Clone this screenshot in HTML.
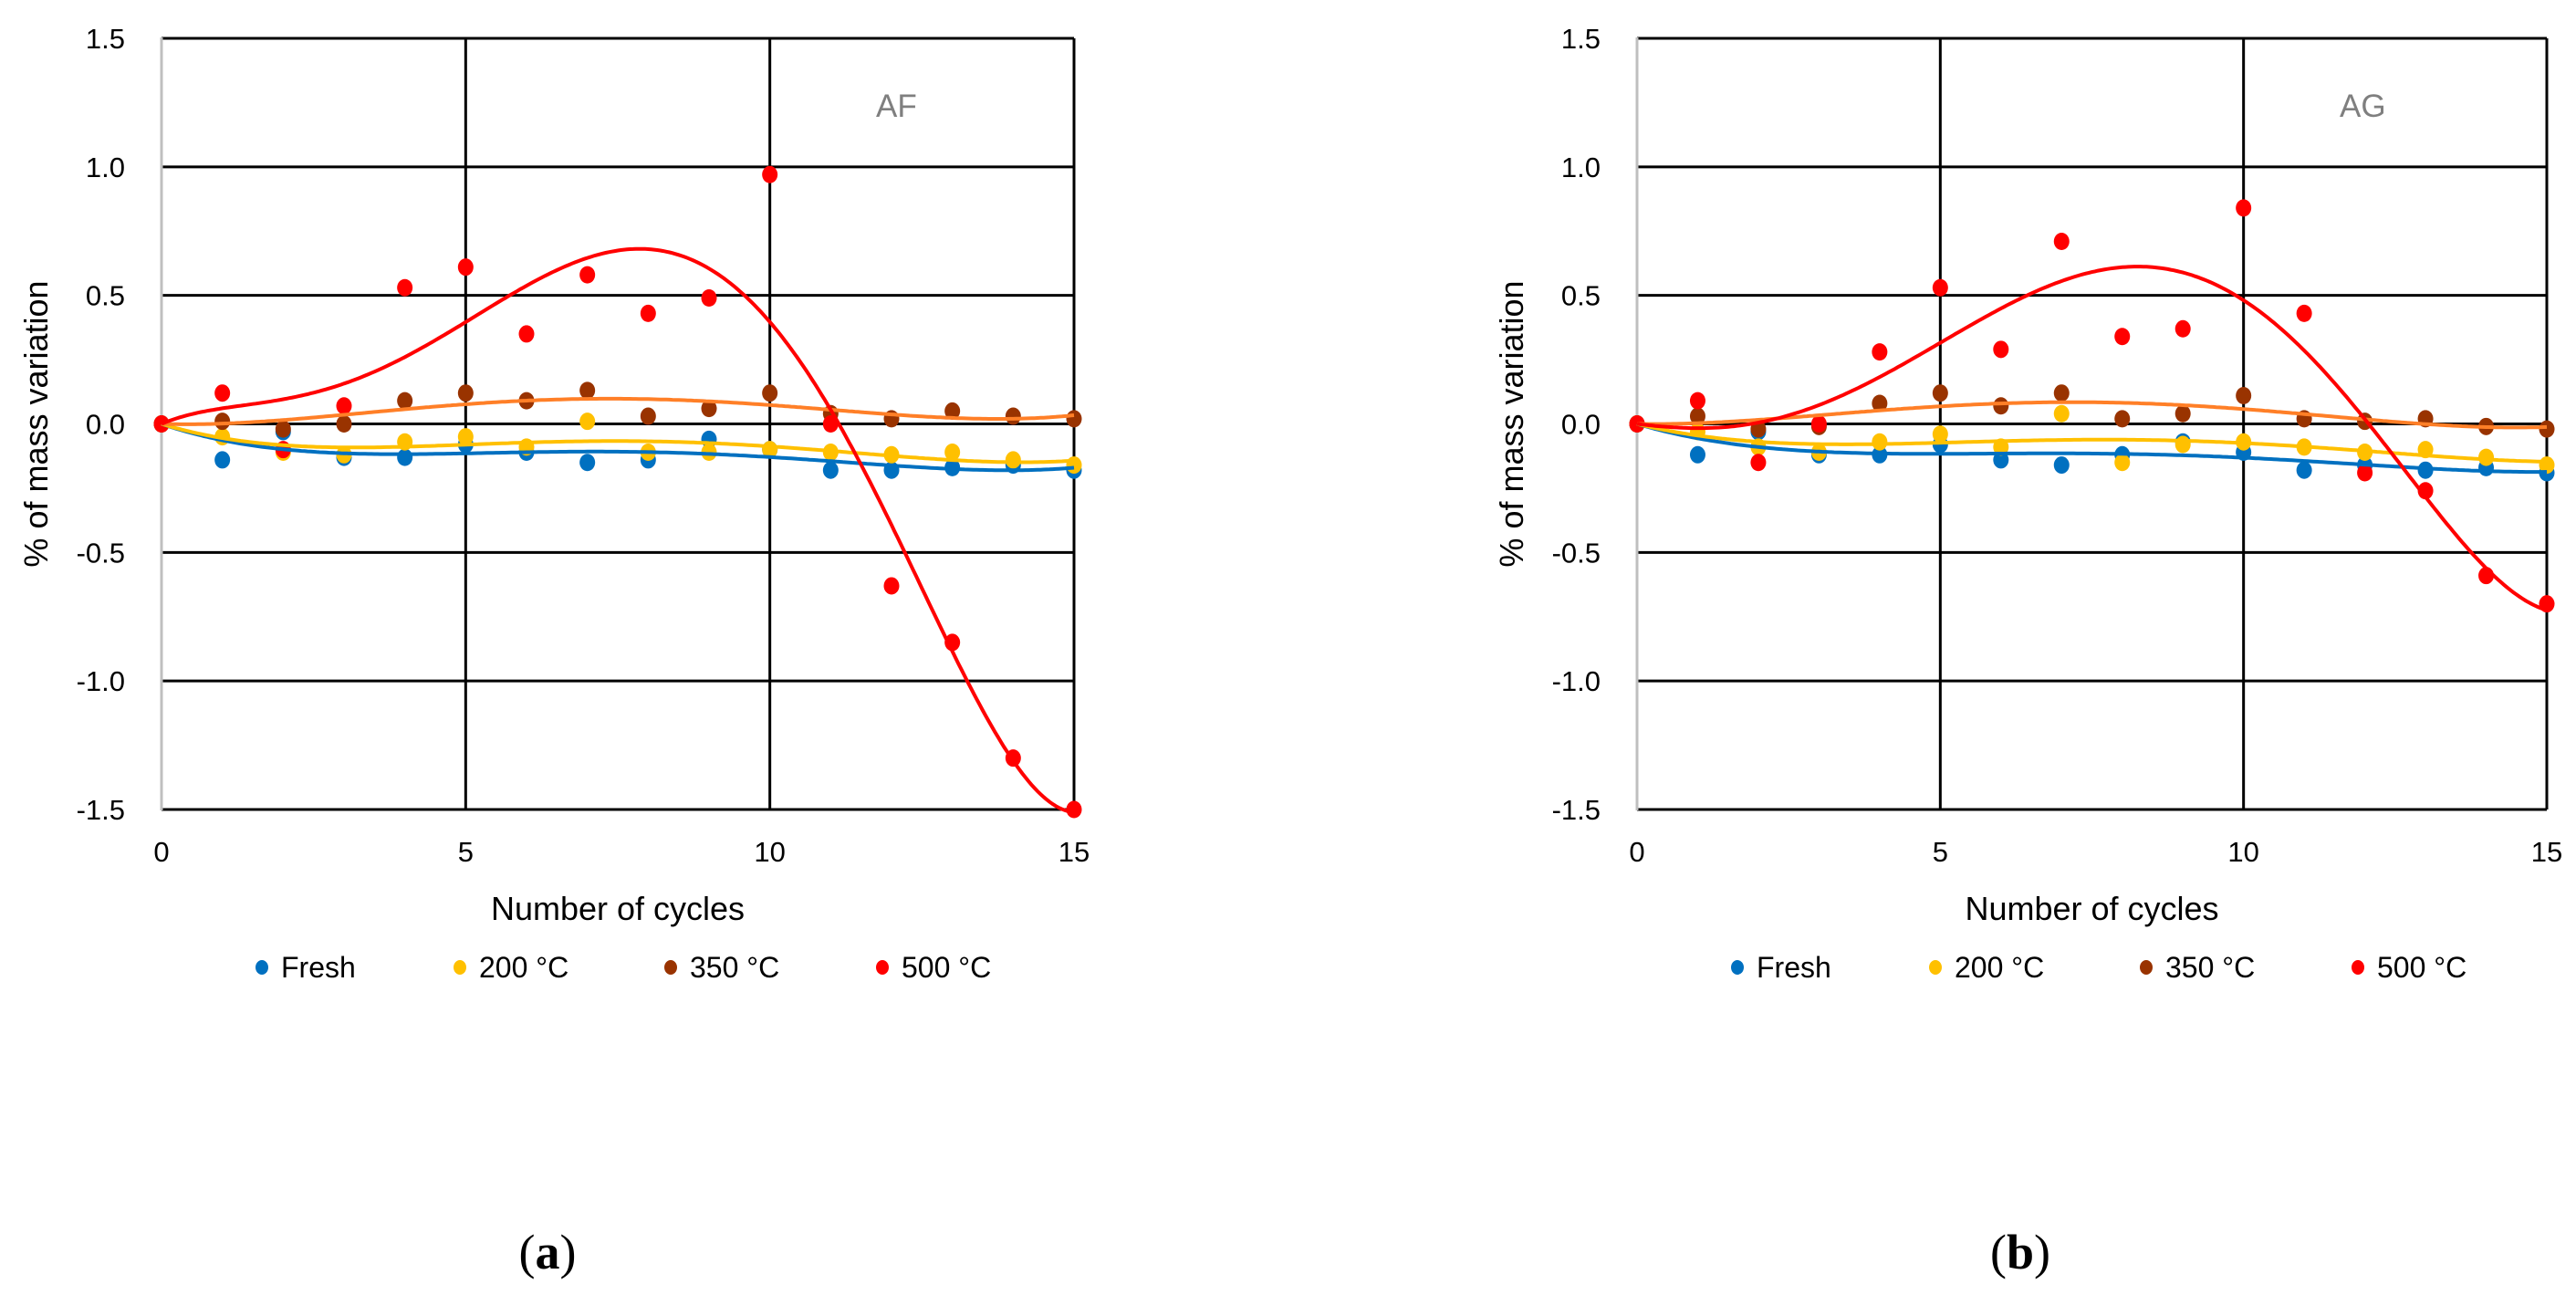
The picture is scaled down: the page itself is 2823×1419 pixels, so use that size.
<!DOCTYPE html>
<html><head><meta charset="utf-8"><style>
html,body{margin:0;padding:0;background:#fff;}
svg{display:block;font-family:"Liberation Sans",sans-serif;}
</style></head><body>
<svg id="fig" width="2823" height="1419" viewBox="0 0 2823 1419" xmlns="http://www.w3.org/2000/svg"></svg>
<script>
const cycles = [0,1,2,3,4,5,6,7,8,9,10,11,12,13,14,15];
const seriesNames = ["Fresh","200 °C","350 °C","500 °C"];
const afFresh = [0,-0.14,-0.03,-0.13,-0.13,-0.08,-0.11,-0.15,-0.14,-0.06,-0.10,-0.18,-0.18,-0.17,-0.16,-0.18];
const af200 = [0,-0.05,-0.11,-0.12,-0.07,-0.05,-0.09,0.01,-0.11,-0.11,-0.10,-0.11,-0.12,-0.11,-0.14,-0.16];
const af350 = [0,0.01,-0.02,0.0,0.09,0.12,0.09,0.13,0.03,0.06,0.12,0.04,0.02,0.05,0.03,0.02];
const af500 = [0,0.12,-0.10,0.07,0.53,0.61,0.35,0.58,0.43,0.49,0.97,0.00,-0.63,-0.85,-1.30,-1.50];
const agFresh = [0,-0.12,-0.03,-0.12,-0.12,-0.08,-0.14,-0.16,-0.12,-0.07,-0.11,-0.18,-0.16,-0.18,-0.17,-0.19];
const ag200 = [0,-0.03,-0.09,-0.11,-0.07,-0.04,-0.09,0.04,-0.15,-0.08,-0.07,-0.09,-0.11,-0.10,-0.13,-0.16];
const ag350 = [0,0.03,-0.02,-0.01,0.08,0.12,0.07,0.12,0.02,0.04,0.11,0.02,0.01,0.02,-0.01,-0.02];
const ag500 = [0,0.09,-0.15,0.00,0.28,0.53,0.29,0.71,0.34,0.37,0.84,0.43,-0.19,-0.26,-0.59,-0.70];
const yTicks = [1.5,1.0,0.5,0.0,-0.5,-1.0,-1.5];
const xTicks = [0,5,10,15];

const NS="http://www.w3.org/2000/svg";
const svg=document.getElementById('fig');
function mk(tag,attrs,parent){const e=document.createElementNS(NS,tag);for(const k in attrs)e.setAttribute(k,attrs[k]);(parent||svg).appendChild(e);return e;}
const markerColors=["#0070c0","#ffc000","#993300","#ff0000"];
const lineColors=["#0070c0","#ffc000","#ff7f27","#ff0000"];
// polynomial fit with intercept forced to zero
function polyfit(xs,ys,deg){
  const n=deg;const A=[];for(let i=0;i<n;i++){A.push(new Array(n+1).fill(0));}
  for(let k=0;k<xs.length;k++){const x=xs[k]/15;for(let i=0;i<n;i++){for(let j=0;j<n;j++)A[i][j]+=Math.pow(x,i+j+2);A[i][n]+=ys[k]*Math.pow(x,i+1);}}
  for(let i=0;i<n;i++){let p=i;for(let r=i+1;r<n;r++)if(Math.abs(A[r][i])>Math.abs(A[p][i]))p=r;[A[i],A[p]]=[A[p],A[i]];
    for(let r=0;r<n;r++){if(r===i)continue;const f=A[r][i]/A[i][i];for(let c=i;c<=n;c++)A[r][c]-=f*A[i][c];}}
  const co=[];for(let i=0;i<n;i++)co.push(A[i][n]/A[i][i]);
  return x=>{let s=0;for(let i=0;i<n;i++)s+=co[i]*Math.pow(x/15,i+1);return s;};
}
function chart(id,x0,x1,label,tag,data,degs,tagX,labelX){
  const y0=42,y1=887;
  const g=mk('g',{});
  
  
  const X=v=>x0+(v-0)/(15-0)*(x1-x0);
  const Y=v=>y0+(1.5-v)/3*(y1-y0);
  yTicks.forEach(t=>{
    const l=mk('line',{x1:x0,x2:x1,y1:Y(t),y2:Y(t),stroke:'#000','stroke-width':3},g);
    
    
    const tx=mk('text',{x:x0-40,y:Y(t)+11,'text-anchor':'end','font-size':31,fill:'#000'},g);
    tx.textContent=t.toFixed(1);
    
    
  });
  xTicks.forEach(t=>{
    if(t>0){const l=mk('line',{x1:X(t),x2:X(t),y1:y0,y2:y1,stroke:'#000','stroke-width':3},g);
    
    }
    const tx=mk('text',{x:X(t),y:944,'text-anchor':'middle','font-size':31,fill:'#000'},g);
    tx.textContent=t;
    
    
  });
  const ax=mk('line',{x1:x0,x2:x0,y1:y0-1,y2:y1+1,stroke:'#bfbfbf','stroke-width':3},g);
  
  
  data.forEach((arr,si)=>{
    arr.forEach((v,i)=>{
      const c=mk('ellipse',{cx:X(cycles[i]),cy:Y(v),rx:8.5,ry:9.5,fill:markerColors[si]},g);
      
      
    });
  });
  data.forEach((arr,si)=>{
    const f=polyfit(cycles,arr,degs[si]);
    let d='';for(let k=0;k<=300;k++){const xv=15*k/300;d+=(k?'L':'M')+X(xv).toFixed(1)+','+Y(f(xv)).toFixed(1);}
    const p=mk('path',{d:d,fill:'none',stroke:lineColors[si],'stroke-width':4},g);
    
    
  });
  const tg=mk('text',{x:tagX,y:128,'font-size':35,fill:'#7f7f7f'},g);
  tg.textContent=tag;
  
  
  const xt=mk('text',{x:(x0+x1)/2,y:1008,'text-anchor':'middle','font-size':36,fill:'#000'},g);
  xt.textContent='Number of cycles';
  
  
  const yt=mk('text',{x:0,y:0,'text-anchor':'middle','font-size':36,fill:'#000',transform:'translate('+(x0-125)+','+((y0+y1)/2)+') rotate(-90)'},g);
  yt.textContent='% of mass variation';
  
  
  const lx=[x0+110,x0+327,x0+558,x0+790];
  seriesNames.forEach((n,si)=>{
    const e=mk('g',{},g);
    
    
    mk('ellipse',{cx:lx[si],cy:1060,rx:7,ry:8,fill:markerColors[si]},e);
    const t=mk('text',{x:lx[si]+21,y:1071,'font-size':32,fill:'#000'},e);
    t.textContent=n;
  });
  const lb=mk('text',{x:labelX,y:1390,'text-anchor':'middle','font-size':54,fill:'#000','font-family':'"Liberation Serif",serif'},g);
  lb.innerHTML='(<tspan font-weight="bold">'+label+'</tspan>)';
  
  
}
chart('chart-af',177,1177,'a','AF',[afFresh,af200,af350,af500],[4,4,4,5],960,600);
chart('chart-ag',1794,2791,'b','AG',[agFresh,ag200,ag350,ag500],[4,4,4,5],2564,2214);
</script>
</body></html>
